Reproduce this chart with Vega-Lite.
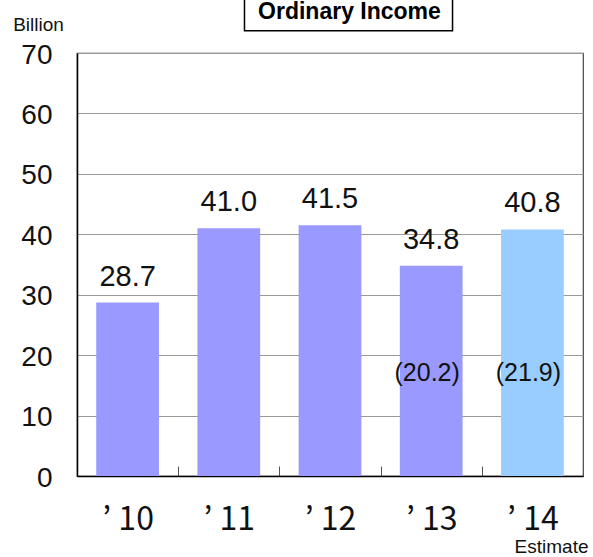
{
  "$schema": "https://vega.github.io/schema/vega-lite/v6.json",
  "autosize": {"type": "none"},
  "padding": {"left": 77, "top": 53, "right": 10, "bottom": 81},
  "width": 506,
  "height": 423,
  "background": "white",
  "config": {
    "view": {"stroke": "#444444", "strokeWidth": 1.2},
    "font": "Liberation Sans"
  },
  "data": {
    "values": [
      {"year": "’10", "value": 28.7, "type": "Actual", "sub": null},
      {"year": "’11", "value": 41.0, "type": "Actual", "sub": null},
      {"year": "’12", "value": 41.5, "type": "Actual", "sub": null},
      {"year": "’13", "value": 34.8, "type": "Actual", "sub": "(20.2)"},
      {"year": "’14", "value": 40.8, "type": "Estimate", "sub": "(21.9)"}
    ]
  },
  "encoding": {
    "x": {
      "field": "year",
      "type": "nominal",
      "sort": null,
      "scale": {"paddingInner": 0.38, "paddingOuter": 0.19},
      "axis": {
        "title": "Estimate",
        "titleFont": "Liberation Sans",
        "titleFontSize": 19,
        "titleFontWeight": "normal",
        "titleColor": "#111111",
        "titleAlign": "right",
        "titleAnchor": "end",
        "titleBaseline": "alphabetic",
        "titleX": 511,
        "titleY": 76,
        "labelAngle": 0,
        "labelFont": "Noto Sans CJK JP",
        "labelFontSize": 32,
        "labelColor": "#111111",
        "labelPadding": 38,
        "labelExpr": "replace(datum.label, '’', '’ ')",
        "bandPosition": 0.5,
        "tickOffset": 50.6,
        "labelOffset": -50.6,
        "tickSize": -10,
        "tickColor": "#555555",
        "tickWidth": 1,
        "domainColor": "#000000",
        "domainWidth": 1.5,
        "grid": false
      }
    }
  },
  "layer": [
    {
      "mark": {"type": "bar"},
      "encoding": {
        "y": {
          "field": "value",
          "type": "quantitative",
          "scale": {"domain": [0, 70]},
          "axis": {
            "title": "Billion",
            "titleFont": "Liberation Sans",
            "titleFontSize": 19,
            "titleFontWeight": "normal",
            "titleColor": "#111111",
            "titleAngle": 0,
            "titleAlign": "center",
            "titleBaseline": "alphabetic",
            "titleX": -39,
            "titleY": -22.6,
            "values": [0, 10, 20, 30, 40, 50, 60, 70],
            "labelFontSize": 28,
            "labelColor": "#111111",
            "labelPadding": 25,
            "labelOffset": 2,
            "ticks": false,
            "domainColor": "#000000",
            "domainWidth": 1.5,
            "grid": true,
            "gridColor": "#999999",
            "gridWidth": 1
          }
        },
        "color": {
          "field": "type",
          "type": "nominal",
          "scale": {"domain": ["Actual", "Estimate"], "range": ["#9999FF", "#99CCFF"]},
          "legend": null
        }
      }
    },
    {
      "mark": {"type": "text", "baseline": "alphabetic", "dy": -17, "fontSize": 29, "color": "#111111"},
      "encoding": {
        "y": {"field": "value", "type": "quantitative"},
        "yOffset": {
          "condition": [
            {"test": "datum.year === '’10'", "value": -5},
            {"test": "datum.year === '’13'", "value": 13},
            {"test": "datum.year === '’14'", "value": 6}
          ],
          "value": 0
        },
        "text": {"field": "value", "type": "quantitative", "format": ".1f"}
      }
    },
    {
      "transform": [{"filter": "datum.sub != null"}],
      "mark": {"type": "text", "baseline": "alphabetic", "dx": -4, "fontSize": 25, "color": "#111111"},
      "encoding": {
        "y": {"datum": 15.7, "type": "quantitative"},
        "text": {"field": "sub", "type": "nominal"}
      }
    },
    {
      "data": {"values": [{"title": "Ordinary Income"}]},
      "mark": {"type": "rect", "fill": "white", "stroke": "#000000", "strokeWidth": 1.5},
      "encoding": {
        "x": {"datum": "’11", "bandPosition": 0.75},
        "x2": {"datum": "’13", "bandPosition": 0.84},
        "y": {"datum": 80, "type": "quantitative"},
        "y2": {"datum": 73.7}
      }
    },
    {
      "data": {"values": [{"title": "Ordinary Income"}]},
      "mark": {"type": "text", "baseline": "alphabetic", "fontSize": 23, "fontWeight": "bold", "color": "#000000"},
      "encoding": {
        "x": {"datum": "’12", "bandPosition": 0.81},
        "y": {"datum": 75.7, "type": "quantitative"},
        "text": {"field": "title", "type": "nominal"}
      }
    }
  ]
}
